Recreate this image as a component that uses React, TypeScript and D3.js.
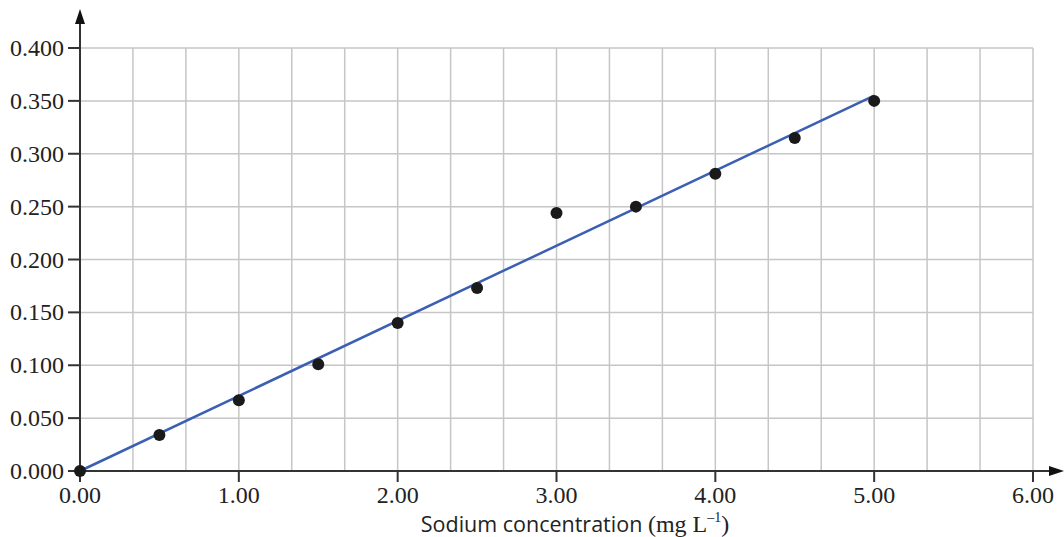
import React, { useEffect, useRef } from 'react';
import * as d3 from 'd3';

// measured points (concentration mg/L, absorbance)
const concentrations = [0, 0.5, 1.0, 1.5, 2.0, 2.5, 3.0, 3.5, 4.0, 4.5, 5.0];
const absorbances = [0, 0.034, 0.067, 0.101, 0.140, 0.173, 0.244, 0.250, 0.281, 0.315, 0.350];
// line of best fit end points
const fitX = [0, 5.0];
const fitY = [0, 0.355];
const xTicks = [0, 1, 2, 3, 4, 5, 6];
const yTicks = [0, 0.05, 0.1, 0.15, 0.2, 0.25, 0.3, 0.35, 0.4];

function App() {
    const ref = useRef<SVGSVGElement>(null);

    useEffect(() => {
        const svg = d3.select(ref.current);
        svg.selectAll('*').remove();

        const w = 1064, h = 537;
        const left = 80, right = 1033, top = 48, bottom = 471;

        const x = d3.scaleLinear().domain([0, 6]).range([left, right]);
        const y = d3.scaleLinear().domain([0, 0.4]).range([bottom, top]);

        const axisColor = '#333';
        const serif = "'Liberation Serif', 'DejaVu Serif', serif";

        // grid
        const g = svg.append('g');
        g.selectAll('line.vg')
            .data(d3.range(1, 19).map(i => i / 3))
            .enter().append('line')
            .attr('x1', d => x(d)).attr('x2', d => x(d))
            .attr('y1', top).attr('y2', bottom)
            .attr('stroke', '#c6c6c6').attr('stroke-width', 1.5);
        g.selectAll('line.hg')
            .data(yTicks.slice(1))
            .enter().append('line')
            .attr('x1', left).attr('x2', right)
            .attr('y1', d => y(d)).attr('y2', d => y(d))
            .attr('stroke', '#c6c6c6').attr('stroke-width', 1.5);

        // axes
        svg.append('line')
            .attr('x1', left).attr('x2', left).attr('y1', bottom + 1).attr('y2', 18)
            .attr('stroke', axisColor).attr('stroke-width', 2);
        svg.append('path')
            .attr('d', `M${left},9 L${left - 5},24 L${left + 5},24 Z`)
            .attr('fill', '#111');
        svg.append('line')
            .attr('x1', left - 1).attr('x2', 1054).attr('y1', bottom).attr('y2', bottom)
            .attr('stroke', axisColor).attr('stroke-width', 2);
        svg.append('path')
            .attr('d', `M1064,${bottom} L1049,${bottom - 5} L1049,${bottom + 5} Z`)
            .attr('fill', '#111');

        // y ticks
        const yt = svg.append('g');
        yt.selectAll('line')
            .data(yTicks).enter().append('line')
            .attr('x1', left - 12).attr('x2', left)
            .attr('y1', d => y(d)).attr('y2', d => y(d))
            .attr('stroke', axisColor).attr('stroke-width', 2);
        yt.selectAll('text')
            .data(yTicks).enter().append('text')
            .attr('x', left - 16).attr('y', d => y(d) + 8)
            .attr('text-anchor', 'end')
            .style('font-family', serif).style('font-size', '24px').attr('fill', '#222')
            .text(d => d3.format('.3f')(d));

        // x ticks
        const xt = svg.append('g');
        xt.selectAll('line')
            .data(xTicks).enter().append('line')
            .attr('x1', d => x(d)).attr('x2', d => x(d))
            .attr('y1', bottom).attr('y2', bottom + 11)
            .attr('stroke', axisColor).attr('stroke-width', 2);
        xt.selectAll('text')
            .data(xTicks).enter().append('text')
            .attr('x', d => x(d)).attr('y', bottom + 32)
            .attr('text-anchor', 'middle')
            .style('font-family', serif).style('font-size', '24px').attr('fill', '#222')
            .text(d => d3.format('.2f')(d));

        // axis title
        const title = svg.append('text')
            .attr('x', 575).attr('y', 532)
            .attr('text-anchor', 'middle')
            .attr('fill', '#222');
        title.append('tspan')
            .style('font-family', "'Open Sans', sans-serif").style('font-size', '21.5px')
            .text('Sodium concentration ');
        title.append('tspan')
            .style('font-family', serif).style('font-size', '24px')
            .text('(mg L');
        title.append('tspan')
            .style('font-family', serif).style('font-size', '14px').attr('dy', -10)
            .text('\u20131');
        title.append('tspan')
            .style('font-family', serif).style('font-size', '24px').attr('dy', 10)
            .text(')');

        // best-fit line
        const line = d3.line<number>()
            .x((d, i) => x(fitX[i]))
            .y(d => y(d));
        svg.append('path')
            .attr('d', line(fitY))
            .attr('fill', 'none')
            .attr('stroke', '#3b5fb3')
            .attr('stroke-width', 2.5);

        // points
        svg.selectAll('circle')
            .data(absorbances).enter().append('circle')
            .attr('cx', (d, i) => x(concentrations[i]))
            .attr('cy', d => y(d))
            .attr('r', 6)
            .attr('fill', '#1a1a1a');

        svg.attr('width', w).attr('height', h);
    }, []);

    return (
        <svg ref={ref} width={1064} height={537}
            style={{ position: 'absolute', top: 0, left: 0, background: '#fff' }}></svg>
    );
}

export default App;
